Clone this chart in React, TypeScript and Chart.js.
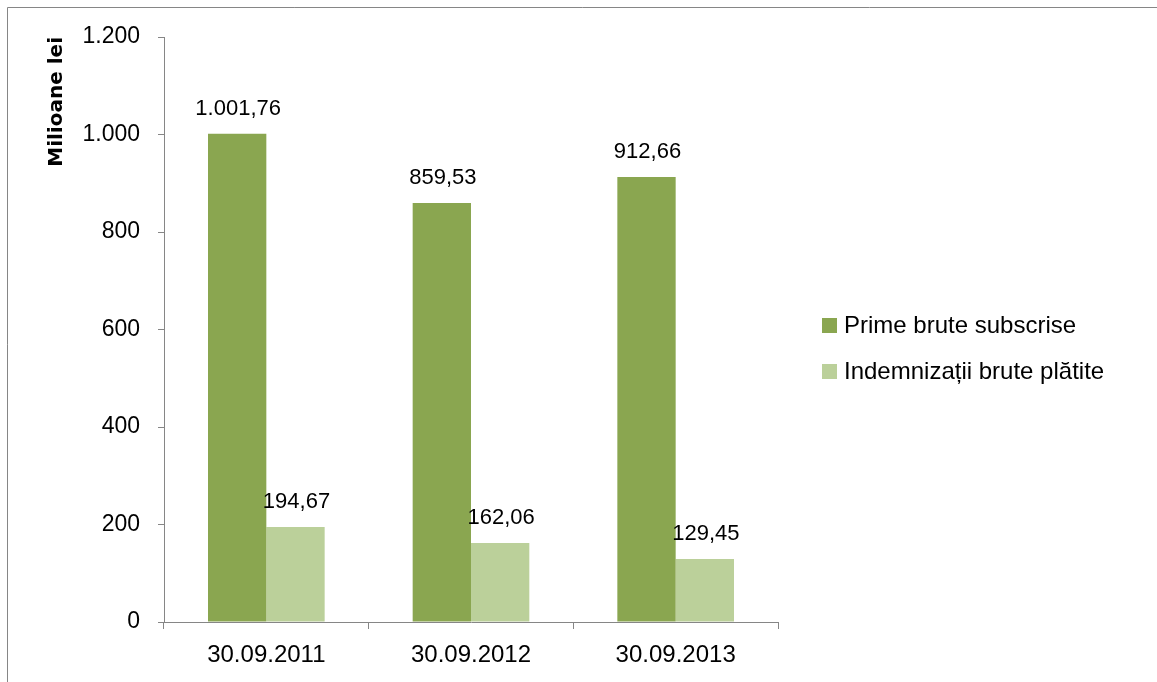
import React, { useEffect, useRef } from "react";
import { Chart, registerables } from "chart.js";

Chart.register(...registerables);

const categories = ["30.09.2011", "30.09.2012", "30.09.2013"];
const primeBrute = [1001.76, 859.53, 912.66];
const indemnizatii = [194.67, 162.06, 129.45];
const seriesLabels = ["Prime brute subscrise", "Indemnizații brute plătite"];
const seriesColors = ["#8AA650", "#BBD09A"];
const yMin = 0;
const yMax = 1200;
const yStep = 200;
const yTitle = "Milioane lei";

const FONT = "'Liberation Sans', Arial, sans-serif";
const AXIS_COLOR = "#868686";

function formatRo(v: number, decimals: number): string {
  const fixed = v.toFixed(decimals);
  const [intPart, dec] = fixed.split(".");
  const withSep = intPart.replace(/\B(?=(\d{3})+(?!\d))/g, ".");
  return dec ? `${withSep},${dec}` : withSep;
}

const borderPlugin = {
  id: "outerBorder",
  beforeDraw(chart: any) {
    const { ctx, width, height } = chart;
    ctx.save();
    ctx.strokeStyle = AXIS_COLOR;
    ctx.lineWidth = 1;
    ctx.beginPath();
    ctx.moveTo(7.5, height);
    ctx.lineTo(7.5, 7.5);
    ctx.lineTo(width, 7.5);
    ctx.stroke();
    ctx.restore();
  },
};

const valueLabelPlugin = {
  id: "valueLabels",
  afterDatasetsDraw(chart: any) {
    const { ctx } = chart;
    ctx.save();
    ctx.font = `22px ${FONT}`;
    ctx.fillStyle = "#000";
    ctx.textAlign = "center";
    ctx.textBaseline = "alphabetic";
    chart.data.datasets.forEach((ds: any, i: number) => {
      const meta = chart.getDatasetMeta(i);
      meta.data.forEach((el: any, j: number) => {
        ctx.fillText(formatRo(ds.data[j], 2), el.x + 1, el.y - 19);
      });
    });
    ctx.restore();
  },
};

const legendPlugin = {
  id: "sideLegend",
  afterDraw(chart: any) {
    const { ctx, chartArea } = chart;
    ctx.save();
    ctx.font = `24px ${FONT}`;
    ctx.textAlign = "left";
    ctx.textBaseline = "middle";
    const x = chartArea.right + 44;
    const firstY = chartArea.top + 288;
    const gap = 46;
    chart.data.datasets.forEach((ds: any, i: number) => {
      const cy = firstY + i * gap;
      ctx.fillStyle = ds.backgroundColor;
      ctx.fillRect(x, cy - 7, 15, 15);
      ctx.fillStyle = "#000";
      ctx.fillText(ds.label, x + 22, cy + 1);
    });
    ctx.restore();
  },
};

export default function App() {
  const canvasRef = useRef<HTMLCanvasElement | null>(null);

  useEffect(() => {
    if (!canvasRef.current) return;
    const chart = new Chart(canvasRef.current, {
      type: "bar",
      data: {
        labels: categories,
        datasets: [
          {
            label: seriesLabels[0],
            data: primeBrute,
            backgroundColor: seriesColors[0],
            categoryPercentage: 0.57,
            barPercentage: 1,
          },
          {
            label: seriesLabels[1],
            data: indemnizatii,
            backgroundColor: seriesColors[1],
            categoryPercentage: 0.57,
            barPercentage: 1,
          },
        ],
      },
      options: {
        responsive: true,
        maintainAspectRatio: false,
        animation: false,
        layout: { padding: { left: 0, top: 37, right: 379, bottom: 0 } },
        plugins: {
          legend: { display: false },
          tooltip: { enabled: false },
        },
        scales: {
          x: {
            offset: true,
            grid: {
              offset: true,
              drawOnChartArea: false,
              drawTicks: true,
              tickLength: 7,
              color: AXIS_COLOR,
            },
            border: { color: AXIS_COLOR, width: 1 },
            ticks: {
              color: "#000",
              font: { family: FONT, size: 24 },
              padding: 12,
            },
            afterFit(scale: any) {
              scale.height = 60;
            },
          },
          y: {
            min: yMin,
            max: yMax,
            grid: {
              drawOnChartArea: false,
              drawTicks: true,
              tickLength: 6,
              color: AXIS_COLOR,
            },
            border: { color: AXIS_COLOR, width: 1 },
            ticks: {
              stepSize: yStep,
              color: "#000",
              font: { family: FONT, size: 23 },
              padding: 18,
              callback: (v: any) => formatRo(Number(v), 0),
            },
            title: {
              display: true,
              text: yTitle,
              align: "end",
              color: "#000",
              font: { family: "'DejaVu Sans', sans-serif", size: 20, weight: "bold" },
              padding: { top: 45, bottom: 0 },
            },
            afterFit(scale: any) {
              scale.width = 164;
            },
          },
        },
      },
      plugins: [borderPlugin, valueLabelPlugin, legendPlugin],
    } as any);
    return () => chart.destroy();
  }, []);

  return (
    <div style={{ position: "fixed", left: 0, top: 0, width: 1157, height: 682, background: "#fff" }}>
      <canvas ref={canvasRef} />
    </div>
  );
}
